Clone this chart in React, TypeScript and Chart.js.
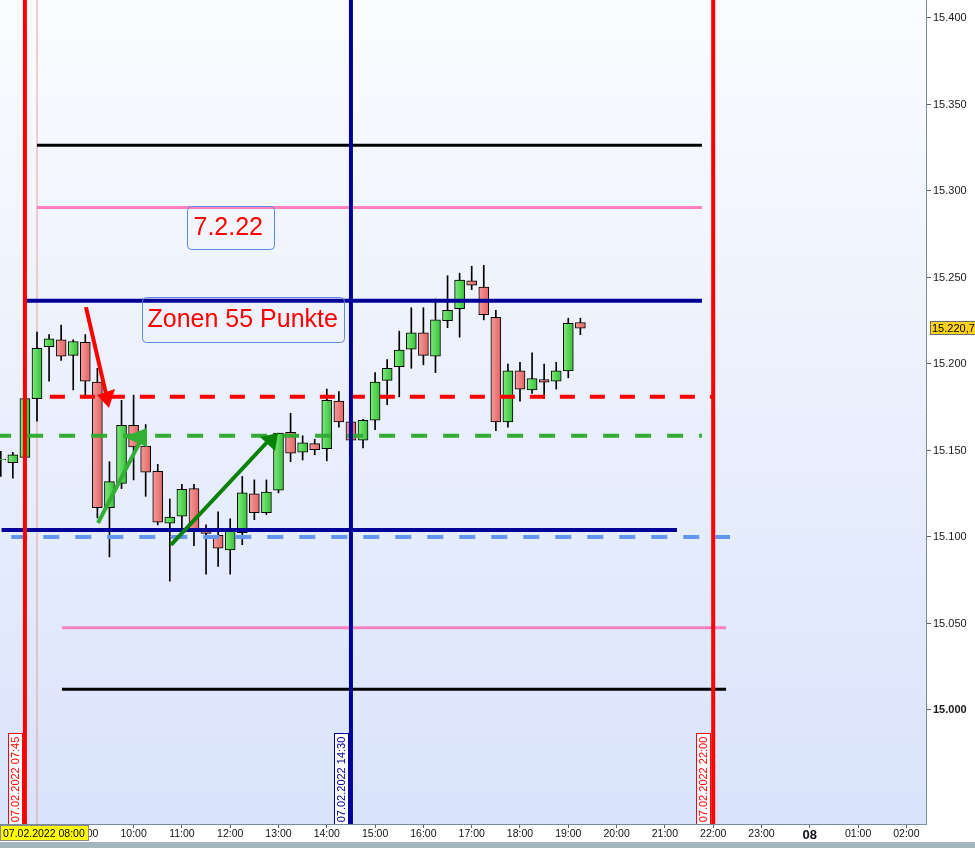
import React, { useEffect, useRef } from "react";
import { Chart, registerables } from "chart.js";

Chart.register(...registerables);

// 15-minute candles, 07.02.2022
const candleTimes = [
  "07:15", "07:30", "07:45",
  "08:00", "08:15", "08:30", "08:45",
  "09:00", "09:15", "09:30", "09:45",
  "10:00", "10:15", "10:30", "10:45",
  "11:00", "11:15", "11:30", "11:45",
  "12:00", "12:15", "12:30", "12:45",
  "13:00", "13:15", "13:30", "13:45",
  "14:00", "14:15", "14:30", "14:45",
  "15:00", "15:15", "15:30", "15:45",
  "16:00", "16:15", "16:30", "16:45",
  "17:00", "17:15", "17:30", "17:45",
  "18:00", "18:15", "18:30", "18:45",
  "19:00", "19:15",
];
const opens = [
  15144.5, 15143, 15146,
  15180, 15210, 15214, 15205,
  15212.5, 15189.5, 15117, 15131,
  15164.5, 15152.5, 15138, 15108,
  15112, 15128, 15105, 15101,
  15092.5, 15102.5, 15125, 15114,
  15127, 15160.5, 15149, 15154,
  15151, 15178.5, 15166.5, 15156,
  15167.5, 15190.5, 15198.5, 15208.5,
  15218, 15204.5, 15225, 15232,
  15248, 15244.5, 15227, 15166.5,
  15196, 15185, 15191, 15190,
  15196, 15224,
];
const highs = [
  15149.5, 15149, 15181,
  15218.5, 15217, 15222.5, 15214,
  15217, 15197.5, 15143.5, 15179,
  15182, 15165, 15142, 15122,
  15130.5, 15130.5, 15107, 15114.5,
  15110.5, 15135, 15133, 15133,
  15160, 15171.5, 15158.5, 15156.5,
  15185.5, 15184, 15168, 15168,
  15195, 15202.5, 15219, 15232.5,
  15232.5, 15237.5, 15251, 15252.5,
  15256.5, 15257, 15231, 15200,
  15201, 15206.5, 15200, 15201,
  15226.5, 15226.5,
];
const lows = [
  15135, 15134, 15145,
  15167, 15190, 15202, 15185,
  15182, 15111, 15088.5, 15128,
  15133, 15123.5, 15107, 15074.5,
  15105, 15095, 15078.5, 15083,
  15078.5, 15095.5, 15110, 15113,
  15125.5, 15143.5, 15144.5, 15147.5,
  15144, 15163.5, 15153, 15151.5,
  15162, 15176.5, 15181, 15197.5,
  15199.5, 15195, 15221, 15215.5,
  15243, 15225.5, 15161.5, 15163.5,
  15178.5, 15183, 15180, 15185.5,
  15192, 15217,
];
const closes = [
  15145, 15147.5, 15180,
  15209, 15214.5, 15204.5, 15213,
  15190, 15117, 15132, 15164.5,
  15152, 15137.5, 15108.5, 15111.5,
  15127.5, 15104.5, 15102, 15093.5,
  15104.5, 15125.5, 15114, 15126,
  15160, 15148.5, 15154.5, 15150.5,
  15179, 15166.5, 15156, 15167.5,
  15189.5, 15197.5, 15208, 15218,
  15205, 15225.5, 15231, 15248.5,
  15245.5, 15228.5, 15166.5, 15196,
  15185.5, 15191.5, 15189.5, 15196,
  15223.5, 15220.7,
];

// axis ticks
const priceTicks = [15000, 15050, 15100, 15150, 15200, 15250, 15300, 15350, 15400];
const hourTicks = [8, 9, 10, 11, 12, 13, 14, 15, 16, 17, 18, 19, 20, 21, 22, 23, 24, 25, 26];
const hourLabels = [
  "08:00", "09:00", "10:00", "11:00", "12:00", "13:00", "14:00", "15:00", "16:00",
  "17:00", "18:00", "19:00", "20:00", "21:00", "22:00", "23:00", "08", "01:00", "02:00",
];

// horizontal zones
const levelPrices = [15326.5, 15290.5, 15236.5, 15181, 15158.5, 15104, 15100, 15047.5, 15012];
const levelStarts = ["08:00", "08:00", "07:46", "08:16", "07:08", "07:16", "07:28", "08:31", "08:31"];
const levelEnds = ["21:46", "21:46", "21:46", "21:59", "21:46", "21:15", "22:21", "22:16", "22:16"];
const levelStyles = [
  { color: "#000000", width: 3, dash: [] as number[] },
  { color: "#ff80c0", width: 3, dash: [] as number[] },
  { color: "#000099", width: 4, dash: [] as number[] },
  { color: "#ff0000", width: 4, dash: [15, 15] },
  { color: "#33aa33", width: 4, dash: [16, 16] },
  { color: "#000099", width: 4, dash: [] as number[] },
  { color: "#6495ed", width: 4, dash: [16, 16] },
  { color: "#ff80c0", width: 3, dash: [] as number[] },
  { color: "#000000", width: 3, dash: [] as number[] },
];

// vertical time markers
const markerTimes = ["07:45", "14:30", "22:00"];
const markerLabels = ["07.02.2022 07:45", "07.02.2022 14:30", "07.02.2022 22:00"];
const markerColors = ["#ff0000", "#000099", "#ff0000"];
const sessionStart = "08:00";

// drawn arrows: tail, end of shaft, head triangle (hour, price)
const arrowTails = [[9.014, 15232.9], [9.263, 15108.1], [10.774, 15095.4]];
const arrowNecks = [[9.429, 15182.7], [10.153, 15156.1], [12.865, 15157.8]];
const arrowHeads = [
  [[9.242, 15182.1], [9.615, 15185.5], [9.491, 15174.6]],
  [[9.801, 15157.8], [10.277, 15163.0], [10.277, 15152.0]],
  [[12.617, 15157.8], [12.99, 15160.1], [12.928, 15149.7]],
];
const arrowColors = ["#ff0000", "#33b033", "#0a820a"];

// text notes: anchor = top-left corner of the box
const noteTexts = ["7.2.22", "Zonen 55 Punkte"];
const noteTimes = ["11:06", "10:10"];
const notePrices = [15291.3, 15238.7];
const noteBoxes = [
  { w: 87, h: 43, tx: 6, ty: 28 },
  { w: 202, h: 45, tx: 5, ty: 29 },
];

const startLabel = "07.02.2022 08:00";

const X_MIN = 7.234;
const X_MAX = 26.406;
const Y_MIN = 14934.1;
const Y_MAX = 15410.4;

const FONT = "'Liberation Sans', Arial, sans-serif";

const toHours = (s: string) => {
  const [h, m] = s.split(":").map(Number);
  return h + m / 60;
};

const formatPrice = (v: number, decimals = 0) => {
  const whole = Math.floor(v);
  const thousands = Math.floor(whole / 1000);
  const rest = String(whole % 1000).padStart(3, "0");
  let s = `${thousands}.${rest}`;
  if (decimals > 0) {
    const frac = Math.round((v - whole) * Math.pow(10, decimals));
    s += "," + String(frac).padStart(decimals, "0");
  }
  return s;
};

const candleHours = candleTimes.map(toHours);

const decor = {
  id: "decor",
  beforeDraw(chart: any) {
    const { ctx, chartArea: a, width, height } = chart;
    ctx.save();
    ctx.fillStyle = "#ffffff";
    ctx.fillRect(0, 0, width, height);
    const g = ctx.createLinearGradient(0, a.top, 0, a.bottom);
    g.addColorStop(0, "#fbfcff");
    g.addColorStop(1, "#d9e3fb");
    ctx.fillStyle = g;
    ctx.fillRect(a.left, a.top, a.right - a.left, a.bottom - a.top);
    ctx.fillStyle = "#a4b4bc";
    ctx.fillRect(0, height - 6, width, 6);
    ctx.restore();
  },
  afterDatasetsDraw(chart: any) {
    const { ctx, chartArea: a } = chart;
    const xs = chart.scales.x;
    const ys = chart.scales.y;
    const px = (t: number) => xs.getPixelForValue(t);
    const py = (v: number) => ys.getPixelForValue(v);

    ctx.save();
    ctx.beginPath();
    ctx.rect(a.left, a.top, a.right - a.left, a.bottom - a.top);
    ctx.clip();

    // arrows
    arrowTails.forEach((tail, i) => {
      const neck = arrowNecks[i];
      ctx.strokeStyle = arrowColors[i];
      ctx.fillStyle = arrowColors[i];
      ctx.lineWidth = 4;
      ctx.lineCap = "butt";
      ctx.beginPath();
      ctx.moveTo(px(tail[0]), py(tail[1]));
      ctx.lineTo(px(neck[0]), py(neck[1]));
      ctx.stroke();
      const head = arrowHeads[i];
      ctx.beginPath();
      head.forEach((p, k) => {
        if (k === 0) ctx.moveTo(px(p[0]), py(p[1]));
        else ctx.lineTo(px(p[0]), py(p[1]));
      });
      ctx.closePath();
      ctx.fill();
    });

    // text notes
    noteTexts.forEach((text, i) => {
      const bx = Math.round(px(toHours(noteTimes[i]))) + 0.5;
      const by = Math.round(py(notePrices[i])) + 0.5;
      const b = noteBoxes[i];
      ctx.strokeStyle = "#5b8be0";
      ctx.lineWidth = 1;
      ctx.beginPath();
      ctx.roundRect(bx, by, b.w, b.h, 4);
      ctx.stroke();
      ctx.fillStyle = "#ff0000";
      ctx.font = `25px ${FONT}`;
      ctx.textAlign = "left";
      ctx.textBaseline = "alphabetic";
      ctx.fillText(text, bx + b.tx, by + b.ty);
    });

    // marker labels at the bottom of each vertical line
    markerTimes.forEach((t, i) => {
      const x = Math.round(px(toHours(t)));
      const w = 15;
      const h = 91;
      const left = x - 2 - w;
      const top = a.bottom - h;
      ctx.fillStyle = "#ffffff";
      ctx.fillRect(left, top, w, h);
      ctx.strokeStyle = markerColors[i];
      ctx.lineWidth = 1;
      ctx.strokeRect(left + 0.5, top + 0.5, w - 1, h);
      ctx.save();
      ctx.translate(left + w / 2 + 0.5, top + h / 2 + 1);
      ctx.rotate(-Math.PI / 2);
      ctx.fillStyle = markerColors[i];
      ctx.font = `11px ${FONT}`;
      ctx.textAlign = "center";
      ctx.textBaseline = "middle";
      ctx.fillText(markerLabels[i], 0, 0);
      ctx.restore();
    });
    ctx.restore();
  },
  afterDraw(chart: any) {
    const { ctx, chartArea: a, width } = chart;
    const ys = chart.scales.y;
    ctx.save();

    // last price tag on the price axis
    const last = closes[closes.length - 1];
    const y = Math.round(ys.getPixelForValue(last));
    ctx.fillStyle = "#ffd21a";
    ctx.fillRect(a.right + 4, y - 7, width - a.right - 4, 14);
    ctx.strokeStyle = "#6b6b6b";
    ctx.lineWidth = 1;
    ctx.strokeRect(a.right + 4.5, y - 6.5, width - a.right, 13);
    ctx.fillStyle = "#000000";
    ctx.font = `11px ${FONT}`;
    ctx.textAlign = "left";
    ctx.textBaseline = "middle";
    ctx.fillText(formatPrice(last, 1), a.right + 6, y + 0.5);

    // highlighted start time on the time axis
    ctx.fillStyle = "#ffff00";
    ctx.fillRect(0, a.bottom + 1, 89, 16);
    ctx.strokeStyle = "#8a8a8a";
    ctx.strokeRect(0.5, a.bottom + 1.5, 88, 15);
    ctx.fillStyle = "#000000";
    ctx.font = `10.5px ${FONT}`;
    ctx.textBaseline = "middle";
    ctx.fillText(startLabel, 3, a.bottom + 10);
    ctx.restore();
  },
};

export default function App() {
  const ref = useRef<HTMLCanvasElement>(null);

  useEffect(() => {
    const canvas = ref.current;
    if (!canvas) return;

    const bodyColor = (c: any) => {
      const i = c.dataIndex;
      const up = closes[i] >= opens[i];
      const chart = c.chart;
      const xs = chart.scales && chart.scales.x;
      const x = xs ? xs.getPixelForValue(candleHours[i]) : NaN;
      if (!isFinite(x)) return up ? "#5ad65a" : "#ec7e7e";
      const g = chart.ctx.createLinearGradient(x - 5, 0, x + 5, 0);
      if (up) {
        g.addColorStop(0, "#7eea7e");
        g.addColorStop(1, "#38c038");
      } else {
        g.addColorStop(0, "#f49c9c");
        g.addColorStop(1, "#e26464");
      }
      return g;
    };

    const levelSets = levelPrices.map((p, i) => ({
      type: "line" as const,
      data: [
        { x: toHours(levelStarts[i]), y: p },
        { x: toHours(levelEnds[i]), y: p },
      ],
      borderColor: levelStyles[i].color,
      borderWidth: levelStyles[i].width,
      borderDash: levelStyles[i].dash,
      borderCapStyle: "butt" as const,
      pointRadius: 0,
      fill: false,
      order: 2,
    }));

    const markerSets = markerTimes.map((t, i) => ({
      type: "line" as const,
      data: [
        { x: toHours(t), y: Y_MIN },
        { x: toHours(t), y: Y_MAX },
      ],
      borderColor: markerColors[i],
      borderWidth: 4,
      pointRadius: 0,
      fill: false,
      order: 1,
    }));

    const chart = new Chart(canvas, {
      type: "bar",
      data: {
        datasets: [
          ...markerSets,
          ...levelSets,
          {
            type: "bar",
            data: candleHours.map((t, i) => ({ x: t, y: [opens[i], closes[i]] })) as any,
            backgroundColor: bodyColor as any,
            borderColor: "#000000",
            borderWidth: 1,
            borderSkipped: false,
            barThickness: 10,
            grouped: false,
            order: 4,
          },
          {
            type: "bar",
            data: candleHours.map((t, i) => ({ x: t, y: [lows[i], highs[i]] })) as any,
            backgroundColor: "#000000",
            borderWidth: 0,
            barThickness: 1,
            grouped: false,
            order: 5,
          },
          {
            type: "line",
            data: [
              { x: toHours(sessionStart), y: Y_MIN },
              { x: toHours(sessionStart), y: Y_MAX },
            ],
            borderColor: "rgba(240, 120, 120, 0.7)",
            borderWidth: 1,
            pointRadius: 0,
            fill: false,
            order: 10,
          },
        ] as any,
      },
      options: {
        responsive: false,
        animation: false,
        devicePixelRatio: 1,
        events: [],
        layout: { padding: 0 },
        plugins: {
          legend: { display: false },
          tooltip: { enabled: false },
        },
        scales: {
          x: {
            type: "linear",
            position: "bottom",
            min: X_MIN,
            max: X_MAX,
            offset: false,
            grid: {
              drawOnChartArea: false,
              drawTicks: true,
              tickLength: 4,
              color: "#56636e",
              offset: false,
            },
            border: { display: true, color: "#7b8c99", width: 1 },
            ticks: {
              autoSkip: false,
              maxRotation: 0,
              padding: 0,
              color: "#101018",
              font: (c: any) =>
                c.tick && c.tick.value === 24
                  ? { family: FONT, size: 13, weight: "bold" }
                  : { family: FONT, size: 10.5, weight: "normal" },
              callback: (_v: any, index: number) => hourLabels[index],
            },
            afterBuildTicks: (s: any) => {
              s.ticks = hourTicks.map((h) => ({ value: h }));
            },
            afterFit: (s: any) => {
              s.height = 24;
              s.paddingLeft = 0;
              s.paddingRight = 0;
            },
          },
          y: {
            type: "linear",
            position: "right",
            min: Y_MIN,
            max: Y_MAX,
            grid: {
              drawOnChartArea: false,
              drawTicks: true,
              tickLength: 5,
              color: "#56636e",
            },
            border: { display: true, color: "#7b8c99", width: 1 },
            ticks: {
              padding: 2,
              color: "#1a1a1a",
              font: (c: any) =>
                c.tick && c.tick.value === 15000
                  ? { family: FONT, size: 11, weight: "bold" }
                  : { family: FONT, size: 11, weight: "normal" },
              callback: (v: any) => formatPrice(Number(v)),
            },
            afterBuildTicks: (s: any) => {
              s.ticks = priceTicks.map((p) => ({ value: p }));
            },
            afterFit: (s: any) => {
              s.width = 49;
              s.paddingTop = 0;
              s.paddingBottom = 0;
            },
          },
        },
      } as any,
      plugins: [decor],
    });

    return () => chart.destroy();
  }, []);

  return (
    <div style={{ position: "fixed", left: 0, top: 0, width: 975, height: 848 }}>
      <canvas ref={ref} width={975} height={848} style={{ display: "block" }} />
    </div>
  );
}
